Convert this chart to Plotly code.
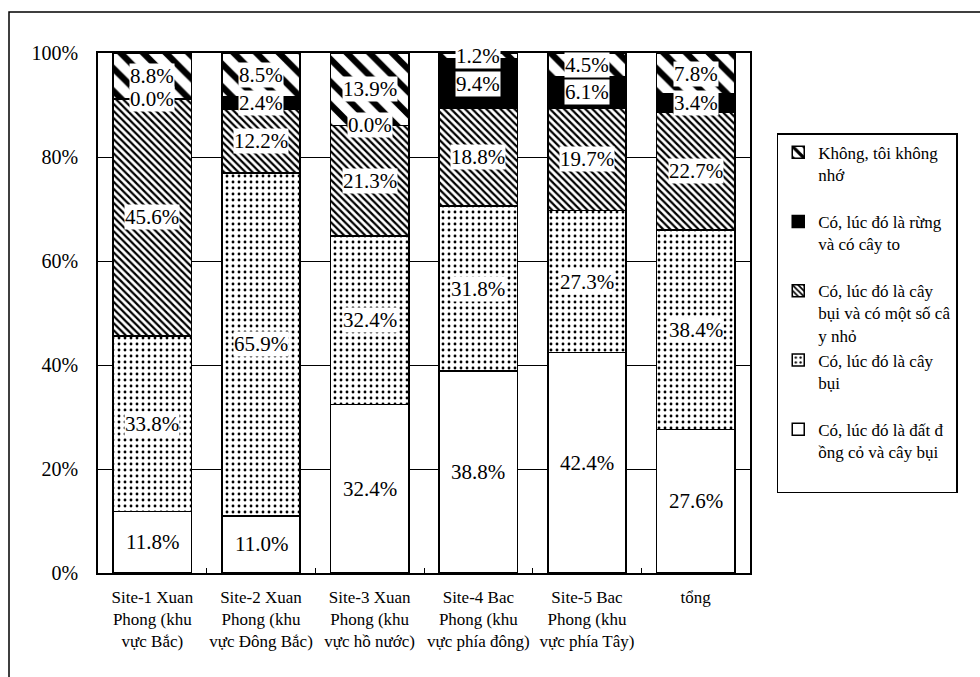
import plotly.graph_objects as go

categories = [
    "Site-1 Xuan<br>Phong (khu<br>vực Bắc)",
    "Site-2 Xuan<br>Phong (khu<br>vực Đông Bắc)",
    "Site-3 Xuan<br>Phong (khu<br>vực hồ nước)",
    "Site-4 Bac<br>Phong (khu<br>vực phía đông)",
    "Site-5 Bac<br>Phong (khu<br>vực phía Tây)",
    "tổng",
]

# series, bottom to top of each stack
dat_dong_co = [11.8, 11.0, 32.4, 38.8, 42.4, 27.6]
cay_bui = [33.8, 65.9, 32.4, 31.8, 27.3, 38.4]
cay_bui_cay_nho = [45.6, 12.2, 21.3, 18.8, 19.7, 22.7]
rung_cay_to = [0.0, 2.4, 0.0, 9.4, 6.1, 3.4]
khong_nho = [8.8, 8.5, 13.9, 1.2, 4.5, 7.8]

series_names = [
    "Có, lúc đó là đất đ<br>ồng cỏ và cây bụi<br> ",
    "Có, lúc đó là cây<br>bụi<br> ",
    "Có, lúc đó là cây<br>bụi và có một số câ<br>y nhỏ",
    "Có, lúc đó là rừng<br>và có cây to<br> ",
    "Không, tôi không<br>nhớ<br> ",
]
series_values = [dat_dong_co, cay_bui, cay_bui_cay_nho, rung_cay_to, khong_nho]

y_tickvals = [0, 20, 40, 60, 80, 100]
y_ticktext = ["0%", "20%", "40%", "60%", "80%", "100%"]

FONT = "Liberation Serif"

patterns = [
    dict(color="white", pattern=None),
    dict(color="white", pattern=dict(shape=".", size=6, solidity=0.18,
                                     fgcolor="black", bgcolor="white", fillmode="replace")),
    dict(color="white", pattern=dict(shape="\\", size=5, solidity=0.45,
                                     fgcolor="black", bgcolor="white", fillmode="replace")),
    dict(color="black", pattern=None),
    dict(color="white", pattern=dict(shape="\\", size=16, solidity=0.4,
                                     fgcolor="black", bgcolor="white", fillmode="replace")),
]

fig = go.Figure()
for name, vals, st in zip(series_names, series_values, patterns):
    marker = dict(color=st["color"], line=dict(color="black", width=1.5))
    if st["pattern"] is not None:
        marker["pattern"] = st["pattern"]
    fig.add_trace(go.Bar(x=categories, y=vals, name=name, marker=marker,
                         hoverinfo="skip"))

# data labels at the middle of each segment, with white background
annotations = []
cum = [0.0] * len(categories)
for vals in series_values:
    for i, v in enumerate(vals):
        annotations.append(dict(
            x=categories[i], y=cum[i] + v / 2.0, xref="x", yref="y",
            text=f"{v:.1f}%", showarrow=False, bgcolor="white", borderpad=0,
            font=dict(family=FONT, size=21, color="black"),
        ))
        cum[i] += v

fig.update_layout(
    width=980, height=677,
    margin=dict(l=98, r=230, t=53, b=104),
    paper_bgcolor="white", plot_bgcolor="white",
    barmode="stack", bargap=0.28,
    font=dict(family=FONT, color="black"),
    annotations=annotations,
    legend=dict(
        x=1.041, y=0.846, xanchor="left", yanchor="top",
        bordercolor="black", borderwidth=1.5, bgcolor="white",
        font=dict(family=FONT, size=17, color="black"),
        traceorder="reversed", valign="top", itemwidth=30,
    ),
    showlegend=True,
    shapes=[dict(type="rect", xref="paper", yref="paper",
                 x0=-0.1365, x1=1.40, y0=-0.22, y1=1.0788,
                 line=dict(color="black", width=1.5), fillcolor="rgba(0,0,0,0)",
                 layer="below")],
)

fig.update_xaxes(
    showline=True, linecolor="black", linewidth=1.5, mirror=True,
    ticks="inside", tickson="boundaries", ticklen=5, tickcolor="black",
    showgrid=False, tickfont=dict(family=FONT, size=17, color="black"),
    ticklabelstandoff=8, tickangle=0, automargin=False,
)
fig.update_yaxes(
    range=[0, 100], tickvals=y_tickvals, ticktext=y_ticktext,
    showline=True, linecolor="black", linewidth=1.5, mirror=True,
    showgrid=True, gridcolor="black", gridwidth=1, ticks="",
    tickfont=dict(family=FONT, size=20, color="black"),
    ticklabelstandoff=14, zeroline=False, automargin=False,
)

fig.write_html("out.html")
